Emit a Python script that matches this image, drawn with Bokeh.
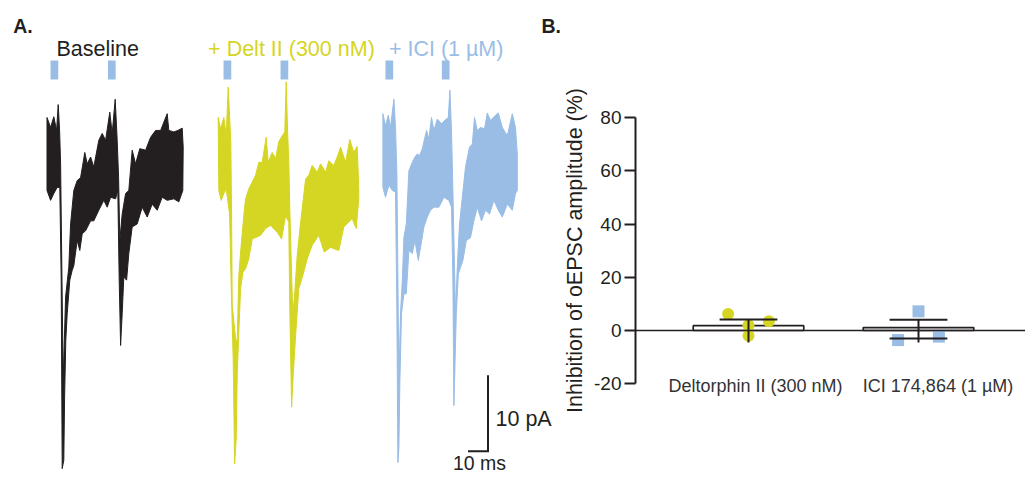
import math
from bokeh.plotting import figure
from bokeh.layouts import row
from bokeh.models import Range1d, Label, FixedTicker, Span
from bokeh.embed import file_html
from bokeh.resources import INLINE

FONT = "Liberation Sans"
BLACK = "#231f20"
YELLOW = "#d5d523"
BLUE = "#99bde5"

# ---------------- Panel A data: oEPSC traces (time in ms, current in pA) --------------
trace_titles = ["Baseline", "+ Delt II (300 nM)", "+ ICI (1 µM)"]

# Baseline trace: upper and lower envelope of the noisy current
base_up_t = [0.0, 1.8, 3.4, 4.8, 5.6, 6.3, 6.8, 8.1, 9.3, 10.9, 11.8, 13.4, 15.1, 16.8, 18.9, 20.1,
             21.8, 23.4, 25.9, 27.6, 29.3, 31.4, 32.6, 34.1, 35.1, 35.8, 36.4, 37.6, 39.3, 40.9,
             42.6, 44.3, 46.4, 49.3, 51.8, 54.3, 56.8, 60.1, 60.9, 63.4, 65.4, 67.6, 68.1]
base_up_i = [5.0, 3.7, 5.1, 3.3, 6.7, 3.3, -1.1, -29.6, -18.6, -14.7, -9.0, -4.6, -3.3, -2.9, 0.4, -1.1,
             -0.2, -1.5, 2.0, 2.9, 2.0, 5.7, 2.9, 7.4, 2.0, -2.9, -11.2, -7.7, -5.0, -4.6,
             0.7, -1.1, 0.9, 0.7, 2.4, 3.3, 3.3, 5.5, 3.3, 3.1, 3.3, 3.6, 1.1]
base_lo_t = [0.0, 1.8, 3.4, 5.1, 6.4, 7.1, 7.6, 8.4, 8.8, 9.4, 10.1, 11.4, 12.6, 13.4, 15.1, 16.4,
             17.6, 19.3, 21.8, 23.4, 25.9, 28.4, 30.1, 31.8, 34.3, 35.4, 36.1, 36.8, 37.6, 38.4,
             39.8, 40.9, 42.6, 45.1, 47.6, 50.1, 52.6, 55.1, 57.6, 60.1, 63.4, 65.9, 67.9]
base_lo_i = [-4.6, -5.9, -5.0, -4.2, -4.2, -16.4, -41.2, -40.1, -31.8, -24.3, -20.8, -16.4, -15.1, -14.5, -11.2, -12.5,
             -10.3, -9.9, -8.6, -8.6, -7.2, -5.9, -6.8, -5.5, -5.7, -4.6, -16.4, -25.0, -20.8, -16.0,
             -16.4, -12.9, -9.4, -9.0, -6.8, -8.1, -6.4, -7.2, -5.5, -5.9, -5.7, -6.1, -4.6]

# + Deltorphin II trace
delt_up_t = [0.1, 1.3, 2.9, 4.1, 5.1, 6.4, 6.8, 7.1, 8.8, 9.6, 10.4, 11.3, 12.9, 13.8, 15.4, 17.1,
             18.8, 20.4, 22.1, 24.1, 25.1, 27.1, 28.8, 30.4, 32.1, 33.4, 34.1, 34.8, 35.4, 35.9,
             37.4, 38.4, 39.6, 41.3, 42.1, 43.8, 45.4, 47.1, 49.6, 51.3, 53.8, 55.4, 57.9, 59.6,
             61.3, 63.8, 65.9, 67.9, 69.6, 70.4]
delt_up_i = [5.0, 3.5, 5.0, 2.6, 9.0, 1.8, -7.9, -19.7, -24.1, -24.6, -15.8, -12.7, -7.9, -5.7, -4.4, -3.5,
             -2.6, -0.9, -0.9, 2.4, -0.9, 0.4, -0.4, 1.8, 2.6, 3.1, 9.7, 3.1, -0.9, -7.0,
             -21.1, -18.0, -13.2, -8.8, -7.0, -3.1, -2.6, -1.3, -2.2, -1.1, -2.2, -0.7, -1.3, -0.2,
             1.1, -0.9, 2.1, 0.4, 1.2, -4.4]
delt_lo_t = [0.4, 1.6, 2.9, 4.1, 5.8, 6.8, 7.6, 8.3, 9.1, 9.6, 10.4, 11.3, 12.4, 13.8, 15.4, 17.1,
             18.8, 21.3, 23.8, 26.3, 29.6, 31.8, 33.8, 35.4, 35.9, 36.8, 37.6, 38.8, 40.4, 42.4,
             44.6, 47.1, 50.4, 53.1, 56.3, 60.4, 62.9, 67.1, 69.1, 70.4]
delt_lo_i = [-4.6, -5.9, -5.0, -4.4, -7.7, -19.3, -26.8, -40.6, -37.3, -28.9, -23.3, -17.5, -15.4, -14.9, -13.6, -11.0,
             -10.8, -10.5, -9.6, -9.2, -10.1, -11.0, -7.9, -8.8, -20.2, -33.1, -28.9, -23.7, -17.5, -15.8,
             -13.6, -11.8, -10.5, -12.7, -12.1, -12.5, -9.4, -8.3, -9.6, -5.7]

# + ICI 174,864 trace
ici_up_t = [0.2, 1.5, 2.9, 4.0, 5.7, 6.5, 7.2, 8.2, 9.0, 9.9, 10.7, 11.9, 13.2, 14.9, 16.2, 17.4,
            18.5, 19.9, 22.0, 23.2, 24.5, 25.7, 27.4, 29.5, 31.5, 32.9, 33.7, 34.5, 35.2, 36.5,
            37.4, 38.5, 39.9, 41.5, 43.5, 44.9, 46.0, 47.4, 49.0, 51.0, 52.4, 54.0, 55.7, 57.9,
            59.9, 62.4, 64.9, 66.5, 67.4]
ici_up_i = [5.5, 3.9, 5.3, 3.7, 7.4, 3.7, -2.4, -29.6, -20.8, -16.4, -10.8, -9.0, -2.0, -0.9, -0.2, 0.2,
            0.0, 0.9, 3.3, 2.2, 5.0, 3.3, 4.8, 4.2, 4.7, 5.0, 8.6, 3.3, -4.6, -20.8,
            -14.7, -9.0, -5.5, -1.5, 1.1, 1.5, 5.0, 3.3, 3.7, 3.5, 5.6, 4.6, 5.1, 5.6,
            3.7, 2.6, 5.5, 3.7, 0.2]
ici_lo_t = [0.2, 1.5, 3.2, 4.9, 6.5, 7.2, 7.7, 8.2, 8.7, 9.5, 10.7, 11.9, 13.2, 14.9, 16.2, 17.9,
            19.0, 20.7, 22.4, 24.0, 25.7, 28.2, 30.7, 33.2, 34.5, 35.2, 35.7, 36.2, 36.9, 37.9,
            39.0, 40.2, 41.9, 44.0, 45.7, 47.4, 49.5, 51.5, 53.5, 55.7, 57.9, 59.9, 62.4, 64.9,
            66.5, 67.4]
ici_lo_i = [-4.2, -5.5, -3.9, -4.6, -4.8, -20.8, -40.4, -38.4, -29.6, -20.8, -18.2, -18.2, -12.5, -12.9, -11.2, -13.8,
            -12.1, -9.4, -8.1, -7.2, -6.8, -6.8, -5.5, -5.9, -6.8, -16.4, -32.9, -27.9, -20.8, -15.6,
            -14.7, -13.8, -11.2, -10.8, -8.6, -6.8, -8.6, -7.2, -7.7, -5.9, -7.2, -8.1, -6.4, -7.2,
            -5.0, -4.6]

# optogenetic stimulus times (ms from trace start)
stim_base = [3.7, 32.4]
stim_delt = [4.7, 33.2]
stim_ici = [3.4, 31.6]

scale_ms = 10
scale_pA = 10

# ---------------- Panel B data -------------------------------------------------------
groups = ["Deltorphin II (300 nM)", "ICI 174,864 (1 µM)"]
delt_values = [6.2, 2.0, 3.5, -2.0]
ici_values = [-3.6, 7.2, -2.3]
means = [1.8, 1.1]
err_high = [4.15, 4.0]
err_low = [float("nan"), -3.0]
whisker_low = [-4.5, -4.5]
y_ticks = [-20, 0, 20, 40, 60, 80]
y_label = "Inhibition of oEPSC amplitude (%)"

# ---------------- Panel A figure (also hosts panel letters and the B y-label) -------
PX_MS = 2.0      # px per ms
PX_PA = 7.6      # px per pA
H = 475
WA = 590
base_row = 155   # px from top to 0 pA
pA = figure(width=WA, height=H, output_backend="svg", toolbar_location=None, title=None,
            x_range=Range1d(0, WA / PX_MS),
            y_range=Range1d(-(H - base_row) / PX_PA, base_row / PX_PA),
            min_border=0, x_axis_location=None, y_axis_location=None)
pA.grid.visible = False
pA.outline_line_color = None

trace_sets = [
    (base_up_t, base_up_i, base_lo_t, base_lo_i, stim_base, BLACK, 23.25),
    (delt_up_t, delt_up_i, delt_lo_t, delt_lo_i, stim_delt, YELLOW, 108.75),
    (ici_up_t, ici_up_i, ici_lo_t, ici_lo_i, stim_ici, BLUE, 191.0),
]
for up_t, up_i, lo_t, lo_i, stims, col, off in trace_sets:
    xs = [off + t for t in up_t] + [off + t for t in reversed(lo_t)]
    ys = list(up_i) + list(reversed(lo_i))
    pA.patch(xs, ys, fill_color=col, line_color=col, line_width=1, line_join="miter")
    pA.rect(x=[off + s for s in stims], y=[11.25] * len(stims), width=3.85, height=2.5,
            fill_color=BLUE, line_color=None)

title_x = [28.0, 103.8, 194.2]
for txt, col, tx in zip(trace_titles, [BLACK, YELLOW, BLUE], title_x):
    pA.add_layout(Label(x=tx, y=13.98, text=txt, text_font=FONT, text_font_size="21.5px",
                        text_color=col, text_align="left", text_baseline="alphabetic"))

for letter, lx in (("A.", 6.35), ("B.", 270.5)):
    pA.add_layout(Label(x=lx, y=17.04, text=letter, text_font=FONT, text_font_size="19.5px",
                        text_font_style="bold", text_color=BLACK, text_baseline="alphabetic"))

# scale bar
sb_x, sb_y = 243.75, -38.9
pA.line([sb_x - scale_ms, sb_x, sb_x], [sb_y, sb_y, sb_y + scale_pA], line_color=BLACK,
        line_width=2, line_join="miter")
pA.add_layout(Label(x=247.5, y=-34.66, text=f"{scale_pA} pA", text_font=FONT,
                    text_font_size="21.5px", text_color=BLACK, text_baseline="alphabetic"))
pA.add_layout(Label(x=226.2, y=-40.5, text=f"{scale_ms} ms", text_font=FONT,
                    text_font_size="19.5px", text_color=BLACK, text_baseline="alphabetic"))

# y-axis title of panel B (rotated)
pA.add_layout(Label(x=287.2, y=-12.5, text=y_label, angle=math.pi / 2, text_font=FONT,
                    text_font_size="21.5px", text_color=BLACK, text_align="center",
                    text_baseline="alphabetic"))

# ---------------- Panel B figure -----------------------------------------------------
WB = 1025 - WA
PX_U = 2.66          # px per % unit
zero_row = 330       # px from top to 0 %
pB = figure(width=WB, height=H, output_backend="svg", toolbar_location=None, title=None,
            x_range=Range1d(0.3353, 0.3353 + (WB - 45) / 170),
            y_range=Range1d(-(H - zero_row) / PX_U, zero_row / PX_U),
            min_border_left=45, min_border_right=0, min_border_top=0, min_border_bottom=0,
            x_axis_location=None)
pB.grid.visible = False
pB.outline_line_color = None
ax = pB.yaxis[0]
ax.ticker = FixedTicker(ticks=y_ticks)
ax.bounds = (min(y_ticks), max(y_ticks))
ax.major_label_overrides = {t: str(t) for t in y_ticks}
ax.major_label_text_font = FONT
ax.major_label_text_font_size = "19px"
ax.major_label_text_color = BLACK
ax.major_label_standoff = 3
ax.axis_line_width = 2
ax.axis_line_color = BLACK
ax.major_tick_line_width = 2
ax.major_tick_line_color = BLACK
ax.major_tick_out = 11
ax.major_tick_in = 0
ax.minor_tick_line_color = None

pB.add_layout(Span(location=0, dimension="width", line_color=BLACK, line_width=1.7))

gx = [1, 2]
bw = 0.65
pB.quad(left=[x - bw / 2 for x in gx], right=[x + bw / 2 for x in gx], bottom=[0, 0], top=means,
        fill_color="white", line_color=BLACK, line_width=1.7)

jit_d = [-0.12, 0.0, 0.12, 0.0]
pB.scatter([gx[0] + j for j in jit_d], delt_values, marker="circle", size=12,
           fill_color=YELLOW, line_color=None)
jit_i = [-0.12, 0.0, 0.12]
pB.scatter([gx[1] + j for j in jit_i], ici_values, marker="square", size=12,
           fill_color=BLUE, line_color=None)

cw = 0.34
pB.segment(x0=gx, y0=whisker_low, x1=gx, y1=err_high, line_color=BLACK, line_width=2)
pB.segment(x0=[x - cw / 2 for x in gx], y0=err_high, x1=[x + cw / 2 for x in gx], y1=err_high,
           line_color=BLACK, line_width=2)
lo_x = [x for x, v in zip(gx, err_low) if not math.isnan(v)]
lo_v = [v for v in err_low if not math.isnan(v)]
pB.segment(x0=[x - cw / 2 for x in lo_x], y0=lo_v, x1=[x + cw / 2 for x in lo_x], y1=lo_v,
           line_color=BLACK, line_width=2)

for g, lx in zip(groups, [1.041, 2.115]):
    pB.add_layout(Label(x=lx, y=-20.72, text=g, text_font=FONT, text_font_size="18px",
                        text_color="#333333", text_align="center", text_baseline="alphabetic"))

layout = row(pA, pB)
open("out.html", "w").write(file_html(layout, INLINE))
